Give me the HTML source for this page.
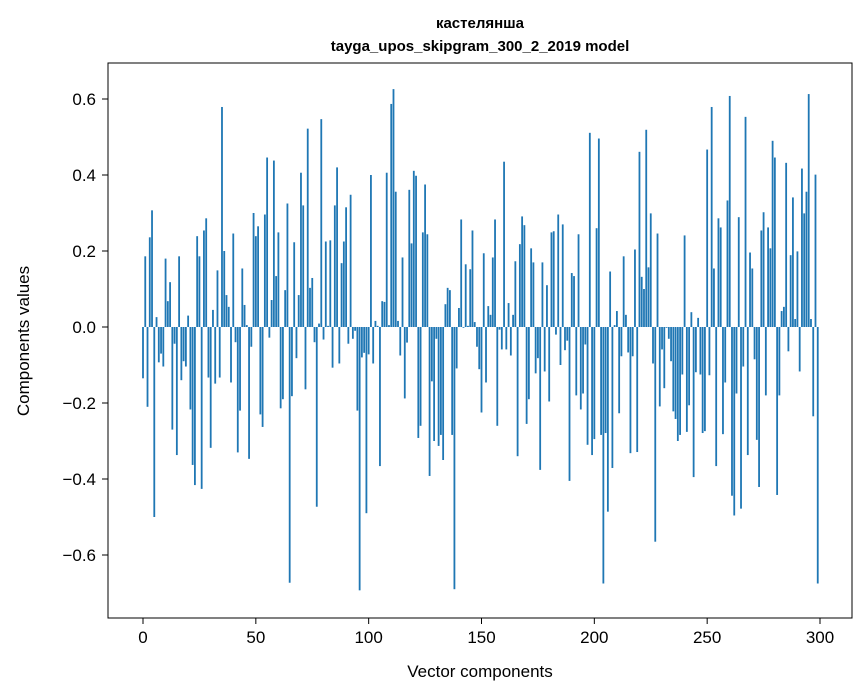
<!DOCTYPE html>
<html><head><meta charset="utf-8"><style>
body{margin:0;background:#fff;}
svg{display:block;font-family:"Liberation Sans","DejaVu Sans",sans-serif;}
</style></head><body>
<svg id="chart" width="867" height="696" viewBox="0 0 867 696" xmlns="http://www.w3.org/2000/svg">
<rect width="867" height="696" fill="#fff"/>
<text x="480" y="28" text-anchor="middle" font-size="15" font-weight="bold">кастелянша</text>
<text x="480" y="51" text-anchor="middle" font-size="15" font-weight="bold">tayga_upos_skipgram_300_2_2019 model</text>
<g id="bars"></g>
<g id="axes"></g>
<rect x="108" y="63" width="744" height="555" fill="none" stroke="#000" stroke-width="1"/>
<text x="480" y="677" text-anchor="middle" font-size="17">Vector components</text>
<text transform="translate(29,341) rotate(-90)" text-anchor="middle" font-size="17">Components values</text>
</svg>
<script>
const values = [
-0.135,0.186,-0.21,0.236,0.307,-0.50,0.026,-0.093,-0.07,-0.104,
0.18,0.068,0.118,-0.27,-0.044,-0.337,0.186,-0.14,-0.09,-0.104,
0.03,-0.217,-0.363,-0.416,0.239,0.186,-0.426,0.254,0.286,-0.133,
-0.318,0.045,-0.149,0.149,-0.133,0.579,0.2,0.084,0.053,-0.146,
0.246,-0.04,-0.33,-0.22,0.154,0.058,0.005,-0.347,-0.052,0.30,
0.239,0.265,-0.23,-0.263,0.296,0.446,-0.028,0.071,0.438,0.134,
0.249,-0.214,-0.19,0.097,0.325,-0.673,-0.182,0.223,-0.082,0.084,
0.406,0.32,-0.164,0.522,0.103,0.129,-0.04,-0.473,0.009,0.547,
-0.033,0.225,0.003,0.228,-0.107,0.32,0.42,-0.096,0.168,0.225,
0.315,-0.044,0.348,-0.031,-0.01,-0.22,-0.693,-0.08,-0.068,-0.49,
-0.072,0.40,-0.096,0.016,0.003,-0.366,0.068,0.066,0.406,0.005,
0.587,0.626,0.356,0.016,-0.075,0.183,-0.188,-0.041,0.361,0.22,
0.411,0.398,-0.292,-0.26,0.249,0.375,0.244,-0.392,-0.143,-0.3,
-0.031,-0.313,-0.284,-0.35,0.06,0.103,0.097,-0.284,-0.69,-0.109,
0.05,0.283,-0.002,0.165,0.003,0.152,0.254,0.013,-0.052,-0.111,
-0.225,0.194,-0.146,0.055,0.032,0.183,0.283,-0.26,-0.007,-0.059,
0.435,-0.059,0.063,-0.075,0.032,0.173,-0.34,0.218,0.291,0.268,
-0.255,-0.19,0.207,0.17,-0.122,-0.082,-0.376,0.17,-0.117,0.11,
-0.196,0.249,0.252,-0.02,0.296,-0.1,0.27,-0.061,-0.036,-0.405,
0.142,0.134,-0.18,0.244,-0.217,-0.175,-0.046,-0.31,0.511,-0.337,
-0.295,0.26,0.496,-0.284,-0.675,-0.279,-0.486,0.146,-0.371,0.005,
0.042,-0.227,-0.077,0.186,0.032,-0.067,-0.332,-0.077,0.204,-0.329,
0.461,0.132,0.1,0.519,0.157,0.299,-0.096,-0.565,0.246,-0.209,
-0.059,-0.161,-0.002,-0.031,-0.09,-0.222,-0.242,-0.3,-0.284,-0.125,
0.241,-0.276,-0.206,0.039,-0.395,-0.119,0.024,-0.125,-0.279,-0.274,
0.467,-0.127,0.579,0.154,-0.366,0.286,0.262,-0.282,-0.146,0.333,
0.608,-0.444,-0.496,-0.175,0.289,-0.478,-0.104,0.553,-0.337,0.196,
0.154,-0.085,-0.297,-0.421,0.254,0.302,-0.18,0.262,0.207,0.49,
0.446,-0.442,-0.18,0.042,0.053,0.432,-0.064,0.189,0.341,0.021,
0.199,-0.117,0.417,0.299,0.356,0.613,0.021,-0.235,0.401,-0.675
];
const xTicks = [0,50,100,150,200,250,300];
const yTicks = [-0.6,-0.4,-0.2,0.0,0.2,0.4,0.6];
const yTickLabels = ["\u22120.6","\u22120.4","\u22120.2","0.0","0.2","0.4","0.6"];

const NS = "http://www.w3.org/2000/svg";
function xScale(v){ return 143 + v * (677/300); }
function yScale(v){ return 327 - v * 380; }
const barsG = document.getElementById('bars');
const axesG = document.getElementById('axes');
values.forEach(function(v, i){
  const r = document.createElementNS(NS, 'rect');
  
  
  const x0 = xScale(i - 0.4), x1 = xScale(i + 0.4);
  const y0 = yScale(Math.max(v, 0)), y1 = yScale(Math.min(v, 0));
  r.setAttribute('x', x0);
  r.setAttribute('width', x1 - x0);
  r.setAttribute('y', y0);
  r.setAttribute('height', Math.max(y1 - y0, 0.3));
  r.setAttribute('fill', '#1f77b4');
  barsG.appendChild(r);
});
xTicks.forEach(function(t){
  const x = xScale(t);
  const l = document.createElementNS(NS, 'line');
  
  
  l.setAttribute('x1', x); l.setAttribute('x2', x);
  l.setAttribute('y1', 618); l.setAttribute('y2', 624);
  l.setAttribute('stroke', '#000');
  axesG.appendChild(l);
  const tx = document.createElementNS(NS, 'text');
  
  
  tx.setAttribute('x', x); tx.setAttribute('y', 643);
  tx.setAttribute('text-anchor', 'middle');
  tx.setAttribute('font-size', '17');
  tx.textContent = String(t);
  axesG.appendChild(tx);
});
yTicks.forEach(function(t, k){
  const y = yScale(t);
  const l = document.createElementNS(NS, 'line');
  
  
  l.setAttribute('x1', 102); l.setAttribute('x2', 108);
  l.setAttribute('y1', y); l.setAttribute('y2', y);
  l.setAttribute('stroke', '#000');
  axesG.appendChild(l);
  const tx = document.createElementNS(NS, 'text');
  
  
  tx.setAttribute('x', 96); tx.setAttribute('y', y + 6);
  tx.setAttribute('text-anchor', 'end');
  tx.setAttribute('font-size', '17');
  tx.textContent = yTickLabels[k];
  axesG.appendChild(tx);
});
</script>
</body></html>
